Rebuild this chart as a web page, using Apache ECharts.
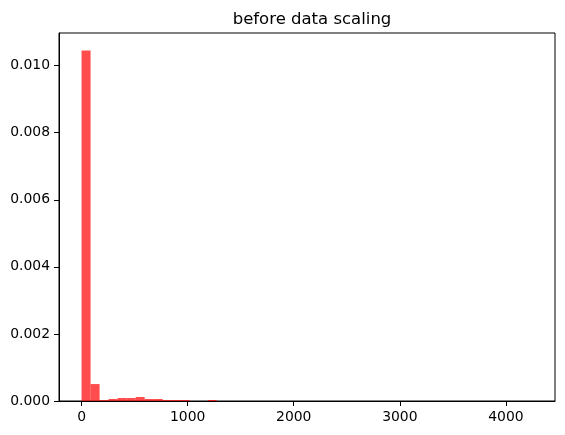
<!DOCTYPE html>
<html>
<head>
<meta charset="utf-8">
<script src="https://cdn.jsdelivr.net/npm/echarts@6/dist/echarts.min.js"></script>
<style>html,body{margin:0;padding:0;background:#fff}#c{width:565px;height:435px}</style>
</head>
<body>
<div id="c"></div>
<script>
// Histogram (density) with 50 bins from 0 to 4250
var binStart = 0;
var binWidth = 85;
var density = [
  0.01045, 0.000505, 0.00003, 0.00006, 0.00009, 0.00009, 0.00012, 0.00006, 0.00006, 0.00003,
  0.00003, 0.00003, 0, 0, 0.00003, 0, 0, 0, 0, 0,
  0, 0, 0, 0, 0, 0, 0, 0, 0, 0,
  0, 0, 0, 0, 0, 0, 0, 0, 0, 0,
  0, 0, 0, 0, 0, 0, 0, 0, 0, 0.000001
];
var xTicks = [0, 1000, 2000, 3000, 4000];
var yTicks = [0, 0.002, 0.004, 0.006, 0.008, 0.010];
var titleText = 'before data scaling';

var data = density.map(function (d, i) {
  return [binStart + i * binWidth, binStart + (i + 1) * binWidth, d];
});
var xMax = binStart + density.length * binWidth;
var xPad = (xMax - binStart) * 0.05;
var yMax = Math.max.apply(null, density) * 1.05;

var chart = echarts.init(document.getElementById('c'), null, {renderer: 'canvas'});
var font = 'DejaVu Sans';
chart.setOption({
  animation: false,
  backgroundColor: '#fff',
  title: {
    text: titleText, left: 307, top: 6, textAlign: 'center',
    textStyle: {fontFamily: font, fontSize: 16.5, fontWeight: 'normal', color: '#000'}
  },
  grid: {left: 59, right: 10, top: 33, bottom: 34, show: true, borderColor: '#000', borderWidth: 1, backgroundColor: 'transparent'},
  xAxis: {
    type: 'value', min: binStart - xPad, max: xMax + xPad,
    splitLine: {show: false},
    axisLine: {show: true, onZero: false, lineStyle: {color: '#000', width: 1}},
    axisTick: {show: true, inside: false, customValues: xTicks, length: 5, lineStyle: {color: '#000'}},
    axisLabel: {customValues: xTicks, color: '#000', fontFamily: font, fontSize: 13.9, margin: 9,
      formatter: function (v) { return String(v); }}
  },
  yAxis: {
    type: 'value', min: 0, max: yMax,
    splitLine: {show: false},
    axisLine: {show: true, onZero: false, lineStyle: {color: '#000', width: 1}},
    axisTick: {show: true, inside: false, customValues: yTicks, length: 5, lineStyle: {color: '#000'}},
    axisLabel: {customValues: yTicks, color: '#000', fontFamily: font, fontSize: 13.9, margin: 9,
      formatter: function (v) { return v.toFixed(3); }}
  },
  series: [{
    type: 'custom',
    data: data,
    encode: {x: [0, 1], y: 2},
    renderItem: function (params, api) {
      var p0 = api.coord([api.value(0), api.value(2)]);
      var p1 = api.coord([api.value(1), 0]);
      return {
        type: 'rect',
        shape: {x: p0[0], y: p0[1], width: p1[0] - p0[0], height: p1[1] - p0[1]},
        style: {fill: 'rgba(255,0,0,0.7)'}
      };
    }
  }]
});
</script>
</body>
</html>
